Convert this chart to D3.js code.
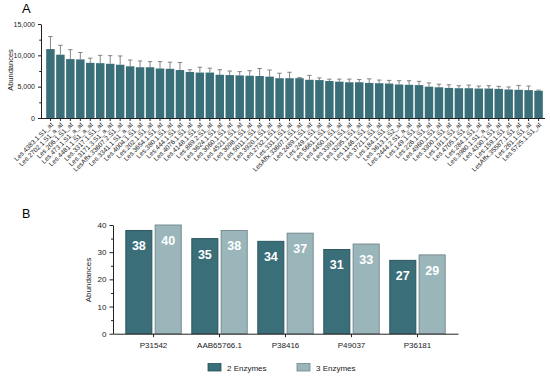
<!DOCTYPE html>
<html>
<head>
<meta charset="utf-8">
<script src="https://cdn.jsdelivr.net/npm/d3@7"></script>
<style>
  body { margin: 0; background: #fff; }
  svg { display: block; font-family: "Liberation Sans", Arial, Helvetica, sans-serif; }
  .axis path, .axis line { stroke: #222; }
</style>
</head>
<body>
<div id="chart"></div>
<script>
// panel A data
var probes = ["Les.4383.1.S1_at","Les.2702.1.S1_a_at","Les.206.1.S1_at","Les.473.1.S1_a_at","Les.4481.1.S1_a_at",
  "Les.3317.1.S1_at","Les.3171.3.S1_a_at","LesAffx.33607.2.S1_at","Les.3341.1.S1_a_at","Les.4004.1.S1_at",
  "Les.202.1.S1_at","Les.3654.1.S1_at","Les.380.1.S1_at","Les.444.1.S1_at","Les.4076.1.S1_at",
  "Les.4148.1.S1_at","Les.889.2.S1_at","Les.3624.1.S1_at","Les.3060.1.S1_at","Les.4521.1.S1_at",
  "Les.3098.1.S1_at","Les.5011.1.S1_at","Les.3920.1.S1_at","Les.2732.1.S1_at","Les.331.1.S1_at",
  "LesAffx.33607.1.S1_at","Les.2489.1.S1_at","Les.249.1.S1_at","Les.5661.1.S1_at","Les.4450.1.S1_at",
  "Les.3391.1.S1_at","Les.3295.1.S1_at","Les.1146.1.S1_at","Les.3721.1.S1_at","Les.184.1.S1_at",
  "Les.3613.1.S2_at","Les.2444.2.S1_a_at","Les.149.1.S1_at","Les.226.1.S1_at","Les.4960.1.S1_at",
  "Les.3300.1.S1_at","Les.191.1.S1_at","Les.4705.1.S1_at","Les.284.1.S1_at","Les.3980.1.S1_a_at",
  "Les.4330.1.S1_at","Les.159.1.S1_at","LesAffx.35587.1.S1_at","Les.261.1.S1_at","Les.5725.1.S1_at"];
var abundance = [11000,10100,9400,9350,8800,8750,8650,8500,8250,8100,
  8100,7900,7850,7650,7350,7250,7250,6900,6850,6800,
  6750,6700,6600,6350,6350,6350,6100,6050,5900,5800,
  5700,5700,5600,5550,5500,5350,5300,5250,5000,4900,
  4800,4750,4750,4700,4700,4650,4550,4500,4450,4350];
var abundanceErr = [2000,1500,1500,1100,750,1250,1300,1400,1000,1000,
  900,1100,1050,1200,350,850,700,800,650,600,
  800,1200,1050,800,950,100,700,350,300,400,
  500,450,650,500,500,600,650,600,600,500,
  500,400,500,400,450,400,400,700,650,100];
var yTicksA = [0,5000,10000,15000];

// panel B data
var proteins = ["P31542","AAB65766.1","P38416","P49037","P36181"];
var enzymes = ["2 Enzymes","3 Enzymes"];
var twoEnz = [38,35,34,31,27];
var threeEnz = [40,38,37,33,29];
var yTicksB = [0,10,20,30,40];

var dark = "#3a6e78", light = "#9ab6bb";

var W = 550, H = 376;
var svg = d3.select("#chart").append("svg").attr("width", W).attr("height", H);

// ---------- panel A ----------
var xA = d3.scaleBand().domain(probes).range([46, 543]).paddingInner(0.15).paddingOuter(0.02);
var yA = d3.scaleLinear().domain([0, 15000]).range([118, 24]);

var gA = svg.append("g");
gA.append("text").attr("x", 22).attr("y", 13).attr("font-size", 13).text("A");

gA.selectAll("rect.barA").data(probes).enter().append("rect")
  .attr("class", "barA")
  .attr("x", function(d){ return xA(d); })
  .attr("y", function(d,i){ return yA(abundance[i]); })
  .attr("width", xA.bandwidth())
  .attr("height", function(d,i){ return yA(0) - yA(abundance[i]); })
  .attr("fill", dark);

var errG = gA.append("g").attr("stroke", "#777").attr("stroke-width", 0.9);
probes.forEach(function(p, i){
  var cx = xA(p) + xA.bandwidth()/2;
  errG.append("line").attr("x1", cx).attr("x2", cx)
    .attr("y1", yA(abundance[i])).attr("y2", yA(abundance[i] + abundanceErr[i]));
  errG.append("line").attr("x1", cx - 2.2).attr("x2", cx + 2.2)
    .attr("y1", yA(abundance[i] + abundanceErr[i])).attr("y2", yA(abundance[i] + abundanceErr[i]));
});

var yAxA = gA.append("g").attr("class", "axis").attr("transform", "translate(41,0)")
  .call(d3.axisLeft(yA).tickValues(yTicksA).tickSize(3).tickSizeOuter(0).tickFormat(d3.format(",")));
yAxA.selectAll("text").attr("font-size", 7).attr("fill", "#222");
gA.append("g").attr("class", "axis").attr("transform", "translate(41,0)")
  .call(d3.axisLeft(yA).tickValues([2500,7500,12500]).tickSize(1.8).tickFormat(""))
  .select(".domain").remove();

var xAxA = gA.append("g").attr("class", "axis").attr("transform", "translate(0,118)")
  .call(d3.axisBottom(xA).tickSize(3).tickSizeOuter(0));
xAxA.select(".domain").attr("d", "M41,0.5H545");
xAxA.selectAll("text")
  .attr("x", 0).attr("y", 0).attr("dy", 0)
  .attr("transform", "translate(3,7) rotate(-45)")
  .attr("text-anchor", "end")
  .attr("font-size", 6.6).attr("fill", "#222");

gA.append("text").attr("transform", "translate(13,70) rotate(-90)")
  .attr("text-anchor", "middle").attr("font-size", 7.5).attr("fill", "#222").text("Abundances");

// ---------- panel B ----------
var xB = d3.scaleBand().domain(proteins).range([113, 458]).paddingInner(0).paddingOuter(0.114);
var xSub = d3.scaleBand().domain(enzymes).range([0, xB.bandwidth()]).paddingInner(0.11).paddingOuter(0.18);
var yB = d3.scaleLinear().domain([0, 40]).range([333.7, 225]);

var gB = svg.append("g");
gB.append("text").attr("x", 22).attr("y", 218).attr("font-size", 12.5).text("B");

var rowsB = proteins.map(function(p, i){
  return [{p: p, e: enzymes[0], v: twoEnz[i]}, {p: p, e: enzymes[1], v: threeEnz[i]}];
});

var grp = gB.selectAll("g.grp").data(rowsB).enter().append("g")
  .attr("class", "grp")
  .attr("transform", function(d){ return "translate(" + xB(d[0].p) + ",0)"; });

grp.selectAll("rect").data(function(d){ return d; }).enter().append("rect")
  .attr("x", function(d){ return xSub(d.e); })
  .attr("y", function(d){ return yB(d.v); })
  .attr("width", xSub.bandwidth())
  .attr("height", function(d){ return yB(0) - yB(d.v); })
  .attr("fill", function(d){ return d.e === enzymes[0] ? dark : light; })
  .attr("stroke", function(d){ return d.e === enzymes[0] ? "#27505a" : "#6f8589"; })
  .attr("stroke-width", 0.9);

grp.selectAll("text").data(function(d){ return d; }).enter().append("text")
  .attr("x", function(d){ return xSub(d.e) + xSub.bandwidth()/2; })
  .attr("y", function(d){ return yB(d.v) + 20; })
  .attr("text-anchor", "middle")
  .attr("font-size", 12.5).attr("font-weight", "bold").attr("fill", "#fff")
  .text(function(d){ return d.v; });

var yAxB = gB.append("g").attr("class", "axis").attr("transform", "translate(113,0)")
  .call(d3.axisLeft(yB).tickValues(yTicksB).tickSize(3.5).tickSizeOuter(0));
yAxB.selectAll("text").attr("font-size", 8).attr("fill", "#222");
gB.append("g").attr("class", "axis").attr("transform", "translate(113,0)")
  .call(d3.axisLeft(yB).tickValues([5,15,25,35]).tickSize(2).tickFormat(""))
  .select(".domain").remove();

var xAxB = gB.append("g").attr("class", "axis").attr("transform", "translate(0,333.7)")
  .call(d3.axisBottom(xB).tickSize(3.5).tickSizeOuter(0));
xAxB.selectAll("text").attr("font-size", 8).attr("fill", "#222").attr("y", 9);

gB.append("text").attr("transform", "translate(91,280) rotate(-90)")
  .attr("text-anchor", "middle").attr("font-size", 8).attr("fill", "#222").text("Abundances");

// legend
var legX = [208, 297];
var leg = gB.selectAll("g.leg").data(enzymes).enter().append("g")
  .attr("class", "leg")
  .attr("transform", function(d, i){ return "translate(" + legX[i] + ",363.5)"; });
leg.append("rect").attr("width", 13).attr("height", 7.5)
  .attr("fill", function(d, i){ return i === 0 ? dark : light; })
  .attr("stroke", function(d, i){ return i === 0 ? "#27505a" : "#6f8589"; })
  .attr("stroke-width", 0.8);
leg.append("text").attr("x", 19).attr("y", 7).attr("font-size", 8).attr("fill", "#222")
  .text(function(d){ return d; });
</script>
</body>
</html>
